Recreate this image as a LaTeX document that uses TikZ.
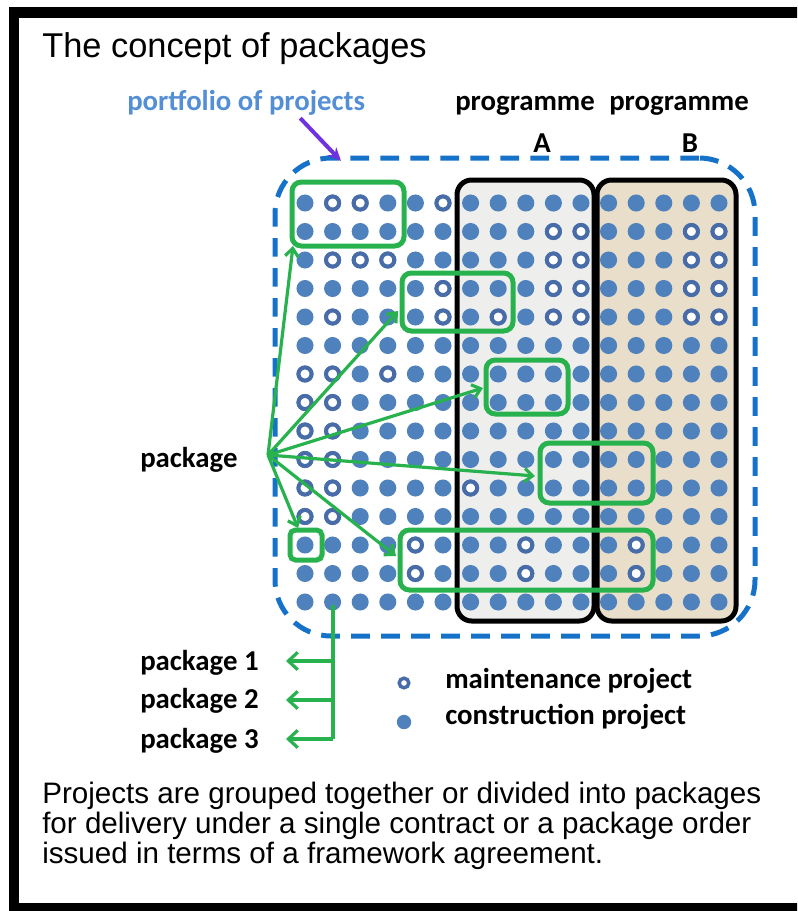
\documentclass[tikz,border=0pt]{standalone}
\usepackage{fontspec}
\setmainfont{Liberation Sans}
\newfontfamily\lblfont{Carlito}
\usetikzlibrary{arrows.meta,fit,calc}

\definecolor{dotblue}{RGB}{79,129,189}
\definecolor{ringblue}{RGB}{72,108,168}
\definecolor{pkggreen}{RGB}{40,178,78}
\definecolor{portblue}{RGB}{22,114,200}
\definecolor{labelblue}{RGB}{84,142,212}
\definecolor{arrowviolet}{RGB}{110,50,225}
\definecolor{progAfill}{RGB}{238,238,236}
\definecolor{progBfill}{RGB}{233,222,202}

\begin{document}
\begin{tikzpicture}[x=0.75pt,y=-0.75pt,
  lbl/.style={font=\lblfont\bfseries\fontsize{21.6}{24}\selectfont, inner sep=0pt, anchor=base west},
  captext/.style={font=\fontsize{22.2}{22.5}\selectfont, inner sep=0pt, anchor=base west},
  progbox/.style={inner sep=0pt, draw=black, line width=3.75pt, rounded corners=11pt},
  pkgbox/.style={inner sep=0pt, draw=pkggreen, line width=3.75pt, rounded corners=7pt},
  pkgarrow/.style={draw=pkggreen, line width=2.4pt, -{Straight Barb[length=6pt,width=10pt]}},
  listarrow/.style={draw=pkggreen, line width=2.4pt, -{Straight Barb[length=7pt,width=13pt]}},
  construction/.style={fill=dotblue},
  maintenance/.style={draw=ringblue, fill=white, line width=3pt},
]
\useasboundingbox (0,0) rectangle (797,911);

% outer frame
\begin{scope}
  \clip (0,0) rectangle (797,911);
  \draw[line width=8pt] (14,12.5) rectangle (812,908);
\end{scope}

% title
\node[font=\fontsize{25.8}{30}\selectfont, inner sep=0pt, anchor=base west] (title) at (42,57) {The concept of packages};

% programmes
\node[progbox, fill=progAfill, fit={(457,180)(594,621)}] (progA) {};
\node[progbox, fill=progBfill, fit={(597,180)(736,621)}] (progB) {};

% portfolio boundary
\node[inner sep=0pt, draw=portblue, line width=3.75pt, dash pattern=on 14pt off 8.5pt,
      rounded corners=42pt, fit={(275,158)(755,636)}] (portfolio) {};

% projects: construction everywhere, maintenance overlaid
\foreach \r in {0,...,14}
  \foreach \c in {0,...,15}
    \fill[construction] ({305+27.6*\c},{203+28.5*\r}) circle[radius=6.4pt];
\foreach \r/\cl in {0/{1,2,5},1/{9,10,14,15},2/{1,2,3,9,10,14,15},3/{5,9,10,14,15},
                    4/{1,5,7,9,10,14,15},6/{0,1,3},7/{0,1},8/{0,1},9/{0,1},
                    10/{0,1,6},11/{0,1},12/{4,8,12},13/{4,8,12}}
  \foreach \c in \cl
    \draw[maintenance] ({305+27.6*\c},{203+28.5*\r}) circle[radius=4.9pt];

% packages
\node[pkgbox, fit={(292,182)(404,246)}] (box1) {};
\node[pkgbox, fit={(402,273)(513,331)}] (box2) {};
\node[pkgbox, fit={(486,360)(568,414)}] (box3) {};
\node[pkgbox, fit={(540,443)(653,503)}] (box4) {};
\node[pkgbox, fit={(400,530)(653,590)}] (box5) {};
\node[pkgbox, rounded corners=4pt, fit={(290,530)(322,560)}] (box6) {};

% labels
\node[lbl, text=labelblue] (port) at (127,110) {portfolio of projects};
\node[lbl] (progAlbl) at (455,110) {programme};
\node[lbl] (progBlbl) at (609,110) {programme};
\node[lbl, anchor=base] (Alet) at (542,152) {A};
\node[lbl, anchor=base] (Blet) at (690,152) {B};
\node[lbl] (pkg) at (140,467) {package};

% portfolio pointer
\coordinate (portTip) at (341,161);
\draw[arrowviolet, line width=3pt, -{Stealth[length=10pt,width=9pt]}] ($(port.south)+(54,3)$) -- (portTip);

% package pointers
\coordinate (hub) at (268,455);
\coordinate (t1) at (293,246);
\coordinate (t2) at (398,311);
\coordinate (t3) at (483,388);
\coordinate (t4) at (535,476);
\coordinate (t5) at (396,556);
\coordinate (t6) at (298,528);
\draw[pkgarrow] (hub) -- (t1);
\draw[pkgarrow] (hub) -- (t2);
\draw[pkgarrow] (hub) -- (t3);
\draw[pkgarrow] (hub) -- (t4);
\draw[pkgarrow] (hub) -- (t5);
\draw[pkgarrow] (hub) -- (t6);

% splitting into numbered packages
\node[lbl] (pk1) at (140,670) {package 1};
\node[lbl] (pk2) at (140,708) {package 2};
\node[lbl] (pk3) at (140,748) {package 3};
\coordinate (stemTop) at (333,605);
\coordinate (stemBot) at (333,739);
\coordinate (b1) at (333,661);
\coordinate (b2) at (333,700);
\coordinate (b3) at (333,739);
\coordinate (a1) at (286,661);
\coordinate (a2) at (286,700);
\coordinate (a3) at (286,739);
\draw[pkggreen, line width=2.4pt] (stemTop) -- (stemBot);
\draw[listarrow] (b1) -- (a1);
\draw[listarrow] (b2) -- (a2);
\draw[listarrow] (b3) -- (a3);

% legend
\draw[maintenance, line width=2.6pt] (404,683) coordinate (legM) circle[radius=3.6pt];
\fill[construction] (404,722) coordinate (legC) circle[radius=5.4pt];
\node[lbl] (legMtxt) at (445,688) {maintenance project};
\node[lbl] (legCtxt) at (445,724) {construction project};

% caption
\node[captext] (cap1) at (42,803) {Projects are grouped together or divided into packages};
\node[captext] (cap2) at (42,833) {for delivery under a single contract or a package order};
\node[captext] (cap3) at (42,863) {issued in terms of a framework agreement.};
\end{tikzpicture}
\end{document}
